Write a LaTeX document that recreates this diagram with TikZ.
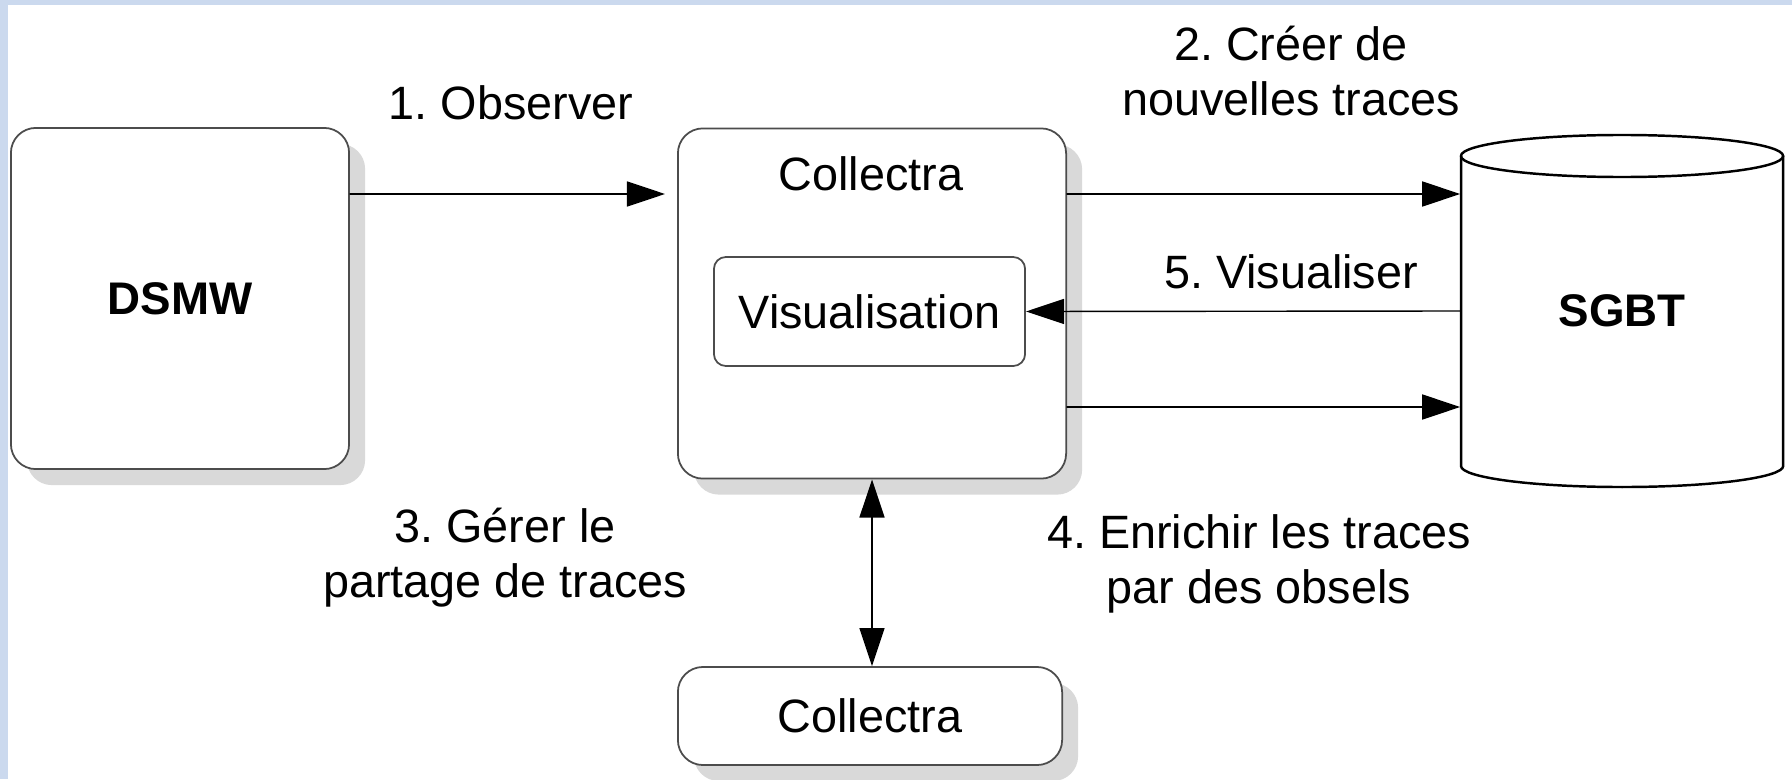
\documentclass[tikz,border=0pt]{standalone}
\usepackage{fontspec}
\setmainfont{Liberation Sans}
\usetikzlibrary{arrows.meta,shadows}
\definecolor{bordbleu}{RGB}{203,217,238}
\definecolor{ombre}{RGB}{217,217,217}
\frenchspacing

\begin{document}
\begin{tikzpicture}[x=0.01cm, y=-0.01cm, line cap=round, line join=round, font=\fontsize{13.3}{15.6}\selectfont, >={Triangle[length=0.38cm, width=0.25cm]}]
	\tikzset{boite/.style={draw=black!70, line width=0.5pt, fill=white, rounded corners=0.25cm, drop shadow={shadow xshift=0.16cm, shadow yshift=-0.16cm, fill=ombre, opacity=1}},
		petit/.style={draw=black!70, line width=0.5pt, fill=white, rounded corners=0.12cm},
		gras/.style={font=\fontsize{13}{15}\selectfont\bfseries},
		etiq/.style={align=center}}
	\fill[bordbleu] (0,0) rectangle (1792,779);
	\fill[white] (8,5) rectangle (1792,779);
	\useasboundingbox (0,0) rectangle (1792,779);
	% boites
	\node[boite, gras, minimum width=3.38cm, minimum height=3.41cm] (dsmw) at (180,298.5) {DSMW};
	\node[boite, minimum width=3.88cm, minimum height=3.50cm] (col) at (872,303.5) {};
	\node (coltitre) at (871,174) {Collectra};
	\node[petit, minimum width=3.11cm, minimum height=1.09cm] (visu) at (869.5,311.5) {Visualisation};
	\node[boite, minimum width=3.84cm, minimum height=0.98cm] (col2) at (870,716) {Collectra};
	% base de traces
	\draw[line width=0.7pt] (1461,156) -- (1461,466) arc[start angle=180, end angle=360, x radius=1.61cm, y radius=0.21cm] -- (1783,156);
	\draw[line width=0.7pt] (1622,156) ellipse[x radius=1.61cm, y radius=0.21cm];
	\node[gras, minimum width=3.22cm, minimum height=3.10cm] (sgbt) at (1622,311) {SGBT};
	% fleches
	\draw[->, shorten >=0.12cm] (dsmw.east |- 0,194) -- (col.west |- 0,194);
	\draw[->] (col.east |- 0,194) -- (sgbt.west |- 0,194);
	\draw[->] (sgbt.west) -- (visu.east);
	\draw[->] (col.east |- 0,407) -- (sgbt.west |- 0,407);
	\draw[<->] (col.south) -- (col.south |- col2.north);
	% etiquettes
	\node[etiq] (lobs) at (511,103) {1. Observer};
	\node[etiq] (lcreer) at (1291,71) {2. Créer de\\nouvelles traces};
	\node[etiq] (lvis) at (1291,272) {5. Visualiser};
	\node[etiq] (lgerer) at (505,558) {3. Gérer le\\partage de traces};
	\node[etiq] (lenrich) at (1259,564) {4. Enrichir les traces\\par des obsels};
\end{tikzpicture}
\end{document}
